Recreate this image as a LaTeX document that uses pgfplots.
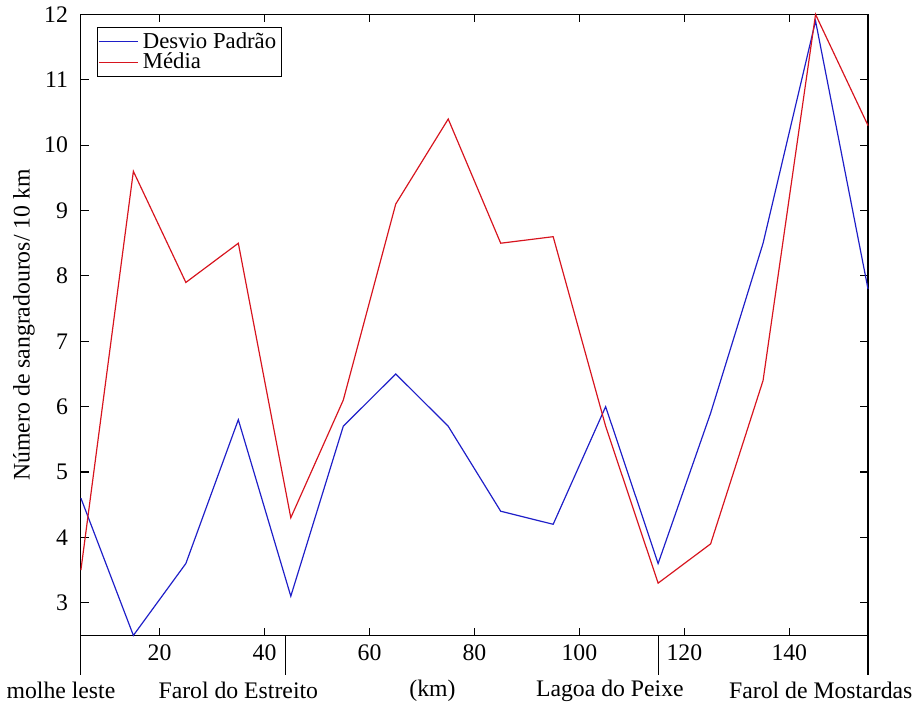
\documentclass[border=0pt]{standalone}
\usepackage{fontspec}
\setmainfont{Liberation Serif}
\usepackage{pgfplots}
\pgfplotsset{compat=1.18}
\definecolor{dpblue}{RGB}{30,30,200}
\definecolor{mdred}{RGB}{215,20,30}

\begin{document}
\begin{tikzpicture}
  \begin{axis}[
    scale only axis,
    width=398pt, height=314pt,
    xmin=5, xmax=155,
    ymin=2.5, ymax=12,
    xtick={20,40,...,140},
    ytick={3,4,...,12},
    tick align=inside,
    major tick length=4pt,
    /pgf/number format/assume math mode=true,
    tick label style={font=\fontsize{12}{14}\selectfont},
    yticklabel style={xshift=-3pt},
    xticklabel style={yshift=-1pt},
    ylabel={Número de sangradouros/ 10 km},
    ylabel style={font=\fontsize{12}{14}\selectfont, yshift=-2pt},
    axis line style={black, line width=0.6pt},
    every tick/.style={black, line width=0.6pt},
    clip=false,
    legend style={
      at={(rel axis cs:0.02,0.98)}, anchor=north west,
      font=\fontsize{11.5}{13}\selectfont,
      draw=black, line width=0.6pt,
      inner sep=0.5pt, row sep=-3pt,
      legend cell align=left,
    },
    legend image code/.code={\draw[#1, line width=0.6pt] (0pt,0pt) -- (20pt,0pt);},
  ]
    % Desvio Padrao
    \addplot[dpblue, line width=0.6pt] coordinates {
      (5,4.6)(15,2.5)(25,3.6)(35,5.8)(45,3.1)(55,5.7)(65,6.5)(75,5.7)
      (85,4.4)(95,4.2)(105,6.0)(115,3.6)(125,5.9)(135,8.5)(145,11.9)(155,7.8)
    };
    % Media
    \addplot[mdred, line width=0.6pt] coordinates {
      (5,3.5)(15,9.6)(25,7.9)(35,8.5)(45,4.3)(55,6.1)(65,9.1)(75,10.4)
      (85,8.5)(95,8.6)(105,5.7)(115,3.3)(125,3.9)(135,6.4)(145,12.0)(155,10.3)
    };
    \legend{Desvio Padrão, Média}

    % locality markers below the axis
    \draw[black, line width=0.6pt] (axis cs:5,2.5) -- ([yshift=-20pt]axis cs:5,2.5);
    \draw[black, line width=0.6pt] (axis cs:44,2.5) -- ([yshift=-20pt]axis cs:44,2.5);
    \draw[black, line width=0.6pt] (axis cs:115,2.5) -- ([yshift=-20pt]axis cs:115,2.5);
    \draw[black, line width=0.6pt] (axis cs:155,2.5) -- ([yshift=-20pt]axis cs:155,2.5);
    \begin{scope}[every node/.style={font=\fontsize{12}{14}\selectfont, anchor=center}]
      \node at ([yshift=-28pt]axis cs:1.2,2.5) {molhe leste};
      \node at ([yshift=-28pt]axis cs:35,2.5) {Farol do Estreito};
      \node at ([yshift=-28pt]axis cs:72,2.5) {(km)};
      \node at ([yshift=-28pt]axis cs:105.8,2.5) {Lagoa do Peixe};
      \node at ([yshift=-28pt]axis cs:146,2.5) {Farol de Mostardas};
    \end{scope}
  \end{axis}
\end{tikzpicture}
\end{document}
